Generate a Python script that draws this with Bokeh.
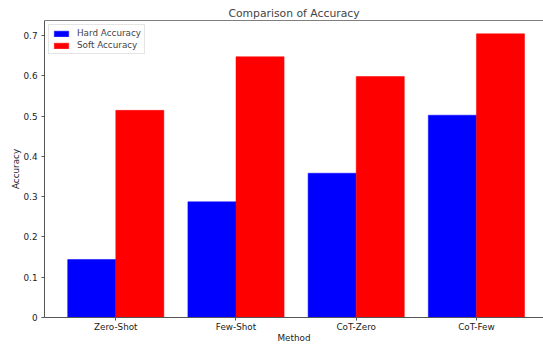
from bokeh.plotting import figure
from bokeh.models import ColumnDataSource, FixedTicker, Range1d, Legend, LegendItem, Span
from bokeh.transform import dodge
from bokeh.embed import file_html
from bokeh.resources import INLINE

methods = ["Zero-Shot", "Few-Shot", "CoT-Zero", "CoT-Few"]
hard_accuracy = [0.144, 0.287, 0.358, 0.502]
soft_accuracy = [0.514, 0.647, 0.598, 0.704]
y_ticks = [0.0, 0.1, 0.2, 0.3, 0.4, 0.5, 0.6, 0.7]
y_max = 0.737

FONT = "DejaVu Sans"

source = ColumnDataSource(dict(
    x=list(range(len(methods))),
    hard=hard_accuracy,
    soft=soft_accuracy,
))

p = figure(width=543, height=345, output_backend="svg", toolbar_location=None,
           x_range=Range1d(-0.593, 3.558), y_range=Range1d(0, y_max),
           min_border_left=44, min_border_right=0, min_border_top=20,
           min_border_bottom=27)

r1 = p.vbar(x=dodge("x", -0.2), top="hard", width=0.4, source=source,
            fill_color="#0000ff", line_color="#0000ff", line_width=0.5)
r2 = p.vbar(x=dodge("x", 0.2), top="soft", width=0.4, source=source,
            fill_color="#ff0000", line_color="#ff0000", line_width=0.5)

p.title.text = "Comparison of Accuracy"
p.title.align = "center"
p.title.vertical_align = "middle"
p.title.text_font = FONT
p.title.text_font_size = "10.8px"
p.title.text_font_style = "normal"
p.title.standoff = 0

p.xgrid.visible = False
p.ygrid.visible = False
p.outline_line_color = None

p.xaxis.ticker = FixedTicker(ticks=list(range(len(methods))))
p.xaxis.major_label_overrides = {i: m for i, m in enumerate(methods)}
p.yaxis.ticker = FixedTicker(ticks=y_ticks)
p.xaxis.axis_label = "Method"
p.yaxis.axis_label = "Accuracy"

for ax in (p.xaxis[0], p.yaxis[0]):
    ax.axis_line_color = "#555555"
    ax.major_tick_line_color = "#555555"
    ax.minor_tick_line_color = None
    ax.major_tick_out = 3
    ax.major_tick_in = 0
    ax.major_label_text_font = FONT
    ax.major_label_text_font_size = "8.8px"
    ax.major_label_text_color = "#222222"
    ax.axis_label_text_font = FONT
    ax.axis_label_text_font_size = "8.8px"
    ax.axis_label_text_font_style = "normal"
    ax.axis_label_text_color = "#222222"

p.xaxis.major_label_standoff = 1
p.xaxis.axis_label_standoff = -2
p.yaxis.major_label_standoff = 4
p.yaxis.axis_label_standoff = 0

p.add_layout(Span(location=y_max, dimension="width", line_color="black", line_width=1))

legend = Legend(items=[LegendItem(label="Hard Accuracy", renderers=[r1]),
                       LegendItem(label="Soft Accuracy", renderers=[r2])],
                location="top_left", margin=4, padding=3, spacing=2,
                glyph_width=18, glyph_height=7, label_standoff=7,
                label_text_font=FONT, label_text_font_size="8.8px",
                border_line_color="#cccccc", background_fill_alpha=0.8)
p.add_layout(legend)

open("out.html", "w").write(file_html(p, INLINE))
